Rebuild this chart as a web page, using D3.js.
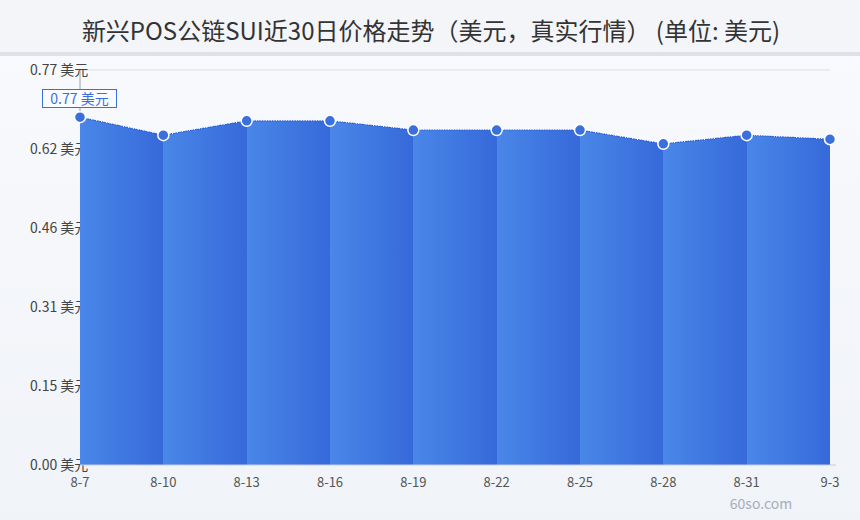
<!DOCTYPE html>
<html>
<head>
<meta charset="utf-8">
<script src="https://cdn.jsdelivr.net/npm/d3@7"></script>
<style>
  html, body { margin: 0; padding: 0; }
  body { width: 860px; height: 520px; overflow: hidden; font-family: "Noto Sans CJK SC", "Noto Sans", sans-serif; }
</style>
</head>
<body>
<svg id="chart" width="860" height="520"></svg>
<script>
'use strict';
// chart data
var dates = ['8-7', '8-10', '8-13', '8-16', '8-19', '8-22', '8-25', '8-28', '8-31', '9-3'];
var prices = [0.678, 0.643, 0.671, 0.671, 0.653, 0.653, 0.653, 0.626, 0.643, 0.635];
var yTicks = [0, 0.154, 0.308, 0.462, 0.616, 0.77];
var title = '新兴POS公链SUI近30日价格走势（美元，真实行情） (单位: 美元)';
var unit = ' 美元';
var markLabel = '0.77 美元';

var width = 860, height = 520;
var svg = d3.select('#chart');
var defs = svg.append('defs');

// page background
var bg = defs.append('linearGradient').attr('id', 'bg').attr('x1', 0).attr('y1', 0).attr('x2', 0).attr('y2', 1);
bg.append('stop').attr('offset', '0%').attr('stop-color', '#f9fafd');
bg.append('stop').attr('offset', '100%').attr('stop-color', '#f0f3f8');
svg.append('rect').attr('width', width).attr('height', height).attr('fill', 'url(#bg)');

// header
svg.append('rect').attr('width', width).attr('height', 53).attr('fill', '#f4f5f8');
svg.append('rect').attr('y', 52).attr('width', width).attr('height', 4).attr('fill', '#dfe1e9');
svg.append('text')
  .attr('x', 431).attr('y', 40)
  .attr('text-anchor', 'middle')
  .attr('font-size', 24)
  .attr('fill', '#333')
  .text(title);

var x = d3.scalePoint().domain(dates).range([80, 830]);
var y = d3.scaleLinear().domain([0, 0.77]).range([465, 70]);

// top grid line
svg.append('line')
  .attr('x1', 80).attr('x2', 830)
  .attr('y1', y(0.77)).attr('y2', y(0.77))
  .attr('stroke', '#dcdfe6');

// y labels (drawn under the area)
svg.append('g').selectAll('text')
  .data(yTicks).enter()
  .append('text')
  .attr('x', 30)
  .attr('y', function (d) { return y(d) + 5; })
  .attr('font-size', 14)
  .attr('fill', '#444')
  .text(function (d) { return d.toFixed(2) + unit; });

// band gradient
var grad = defs.append('linearGradient').attr('id', 'band').attr('x1', 0).attr('y1', 0).attr('x2', 1).attr('y2', 0);
grad.append('stop').attr('offset', '0%').attr('stop-color', '#4a87e8');
grad.append('stop').attr('offset', '100%').attr('stop-color', '#3669da');

// one band per segment between consecutive points
var segs = d3.pairs(d3.range(dates.length));
var area = d3.area()
  .x(function (d) { return x(dates[d]); })
  .y0(y(0))
  .y1(function (d) { return y(prices[d]); });

svg.append('g').selectAll('path')
  .data(segs).enter()
  .append('path')
  .attr('d', function (d) { return area(d); })
  .attr('fill', 'url(#band)')
  .attr('shape-rendering', 'crispEdges');

// top edge
var line = d3.line()
  .x(function (d, i) { return x(dates[i]); })
  .y(function (d) { return y(d); });
svg.append('path')
  .attr('d', line(prices))
  .attr('fill', 'none')
  .attr('stroke', '#2f5fcf')
  .attr('stroke-width', 1.2)
  .attr('stroke-dasharray', '1.5,1');

// x axis line
svg.append('line')
  .attr('x1', 80).attr('x2', 836)
  .attr('y1', y(0)).attr('y2', y(0))
  .attr('stroke', '#c8ccd6');

// x labels
svg.append('g').selectAll('text')
  .data(dates).enter()
  .append('text')
  .attr('x', function (d) { return x(d); })
  .attr('y', 487)
  .attr('text-anchor', 'middle')
  .attr('font-size', 13)
  .attr('fill', '#555')
  .text(function (d) { return d; });

// mark line + label
svg.append('line')
  .attr('x1', x(dates[0])).attr('x2', x(dates[0]))
  .attr('y1', y(0.77)).attr('y2', y(prices[0]))
  .attr('stroke', '#9aa0aa');
svg.append('rect')
  .attr('x', 42.5).attr('y', 89.5).attr('width', 74).attr('height', 18)
  .attr('fill', '#fafbfe')
  .attr('stroke', '#3a6fdc');
svg.append('text')
  .attr('x', 79.5).attr('y', 104)
  .attr('text-anchor', 'middle')
  .attr('font-size', 14)
  .attr('fill', '#3a6fdc')
  .text(markLabel);

// points
svg.append('g').selectAll('circle')
  .data(prices).enter()
  .append('circle')
  .attr('cx', function (d, i) { return x(dates[i]); })
  .attr('cy', function (d) { return y(d); })
  .attr('r', 5.5)
  .attr('fill', '#3a6fdc')
  .attr('stroke', '#fff')
  .attr('stroke-width', 1.5);

// watermark
svg.append('text')
  .attr('x', 761).attr('y', 509)
  .attr('text-anchor', 'middle')
  .attr('font-size', 14)
  .attr('fill', '#a8adb8')
  .text('60so.com');
</script>
</body>
</html>
